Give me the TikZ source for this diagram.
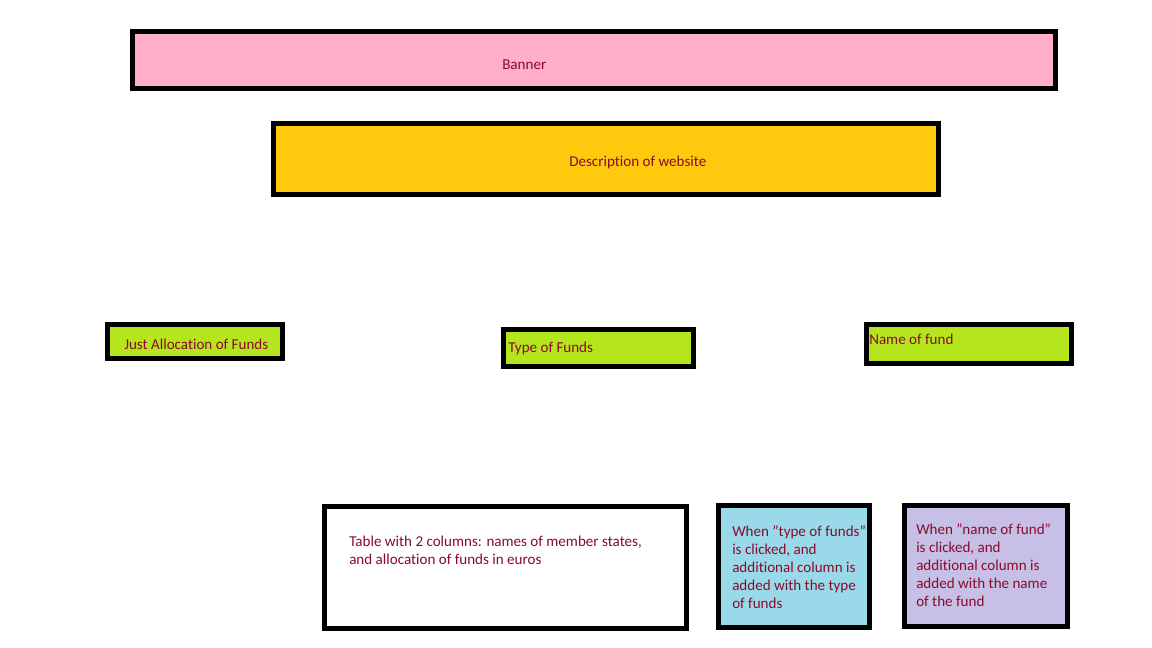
\documentclass[tikz,border=0pt]{standalone}
\usepackage{fontspec}
\setmainfont{Carlito}[Ligatures={NoCommon}]
\definecolor{txt}{HTML}{8A0A2A}
\definecolor{pinkf}{HTML}{FFAEC9}
\definecolor{goldf}{HTML}{FFC90E}
\definecolor{limef}{HTML}{B5E61D}
\definecolor{bluef}{HTML}{99D9EA}
\definecolor{lavf}{HTML}{C8BFE7}
\newcommand{\dq}{\symbol{34}}
\tikzset{
  box/.style={draw=black, line width=3.6pt, inner sep=0pt, outer sep=0pt},
  lbl/.style={text=txt, font=\fontsize{11.3pt}{13.5pt}\selectfont, inner sep=0pt, anchor=west, align=left}
}
\begin{document}
\begin{tikzpicture}[x=0.75pt,y=-0.75pt]
\useasboundingbox (0,0) rectangle (1152,648);
\fill[white] (0,0) rectangle (1152,648);
% boxes (centre-line coordinates)
\draw[box, fill=pinkf] (132.5,31.5) rectangle (1055.5,88.5);
\draw[box, fill=goldf] (273.5,123.5) rectangle (938.5,194.5);
\draw[box, fill=limef] (107.5,324.5) rectangle (282.5,358.5);
\draw[box, fill=limef] (503.5,329.5) rectangle (693.5,366.5);
\draw[box, fill=limef] (866.5,324.5) rectangle (1071.5,363.5);
\draw[box, fill=white] (324.5,506.5) rectangle (686.5,628.5);
\draw[box, fill=bluef] (718.5,505.5) rectangle (869.5,627.5);
\draw[box, fill=lavf] (904.5,505.5) rectangle (1067.5,626.5);
% texts
\node[lbl] (tbanner) at (502,64.5) {Banner};
\node[lbl] (tdesc) at (569,162) {Description of website};
\node[lbl] (tjust) at (124,344.5) {Just Allocation of Funds};
\node[lbl] (ttype) at (508,348) {Type of Funds};
\node[lbl] (tname) at (869,339.5) {Name of fund};
\node[lbl, anchor=north west] (ttable) at (349,536) {Table with 2 columns: names of member states,\\and allocation of funds in euros};
\node[lbl, anchor=north west] (tblue) at (732,526) {When \dq type of funds\dq\\is clicked, and\\additional column is\\added with the type\\of funds};
\node[lbl, anchor=north west] (tlav) at (916,524) {When \dq name of fund\dq\\is clicked, and\\additional column is\\added with the name\\of the fund};
\end{tikzpicture}
\end{document}
